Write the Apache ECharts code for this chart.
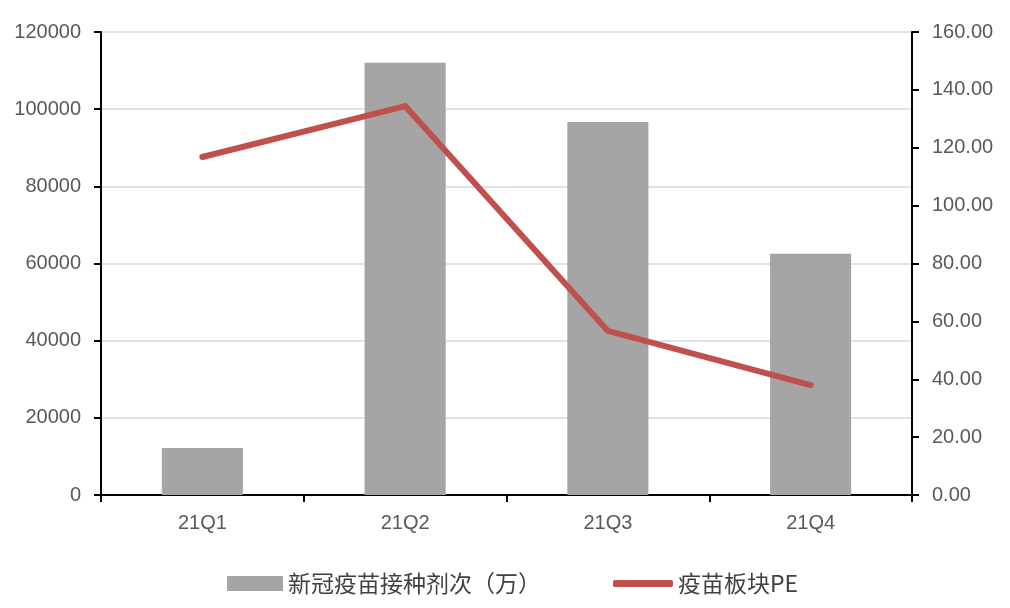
<!DOCTYPE html>
<html>
<head>
<meta charset="utf-8">
<script src="https://cdn.jsdelivr.net/npm/echarts@6/dist/echarts.min.js"></script>
<style>html,body{margin:0;padding:0;background:#fff;}#c{width:1010px;height:608px;}</style>
</head>
<body>
<div id="c"></div>
<script>
const categories = ['21Q1', '21Q2', '21Q3', '21Q4'];
const vaccineDoses = [12200, 112000, 96700, 62500];
const vaccinePE = [116.8, 134.4, 56.7, 38.0];
const barName = '新冠疫苗接种剂次（万）';
const lineName = '疫苗板块PE';

const chart = echarts.init(document.getElementById('c'));
const labelFont = { color: '#595959', fontSize: 20, fontFamily: 'Liberation Sans, Arial, sans-serif' };
chart.setOption({
  animation: false,
  backgroundColor: '#fff',
  grid: { left: 101, right: 98, top: 32, bottom: 113 },
  legend: [
    {
      data: [barName], left: 222, top: 567, icon: 'rect', itemWidth: 56, itemHeight: 15,
      textStyle: { color: '#404040', fontSize: 23, fontFamily: 'Noto Sans CJK SC' }
    },
    {
      data: [lineName], left: 608, top: 567, icon: 'roundRect', itemWidth: 60, itemHeight: 7,
      textStyle: { color: '#404040', fontSize: 23, fontFamily: 'Noto Sans CJK SC' }
    }
  ],
  xAxis: {
    type: 'category', data: categories, boundaryGap: true,
    axisLine: { lineStyle: { color: '#000', width: 2 } },
    axisTick: { show: true, alignWithLabel: false, length: 7, lineStyle: { color: '#000', width: 2 } },
    axisLabel: Object.assign({ margin: 18 }, labelFont)
  },
  yAxis: [
    {
      type: 'value', min: 0, max: 120000, interval: 20000, position: 'left',
      axisLine: { show: true, lineStyle: { color: '#000', width: 2 } },
      axisTick: { show: true, length: 7, lineStyle: { color: '#000', width: 2 } },
      splitLine: { show: true, lineStyle: { color: '#d9d9d9', width: 1.5 } },
      axisLabel: Object.assign({ margin: 20, formatter: v => String(v) }, labelFont)
    },
    {
      type: 'value', min: 0, max: 160, interval: 20, position: 'right',
      axisLine: { show: true, lineStyle: { color: '#000', width: 2 } },
      axisTick: { show: true, length: 7, lineStyle: { color: '#000', width: 2 } },
      splitLine: { show: false },
      axisLabel: Object.assign({ margin: 20, formatter: v => v.toFixed(2) }, labelFont)
    }
  ],
  series: [
    {
      name: barName, type: 'bar', data: vaccineDoses, yAxisIndex: 0,
      barWidth: '40%', itemStyle: { color: '#a5a5a5' }
    },
    {
      name: lineName, type: 'line', data: vaccinePE, yAxisIndex: 1,
      symbol: 'none', lineStyle: { color: '#c0504d', width: 6, cap: 'round', join: 'round' },
      itemStyle: { color: '#c0504d' }
    }
  ]
});
</script>
</body>
</html>
